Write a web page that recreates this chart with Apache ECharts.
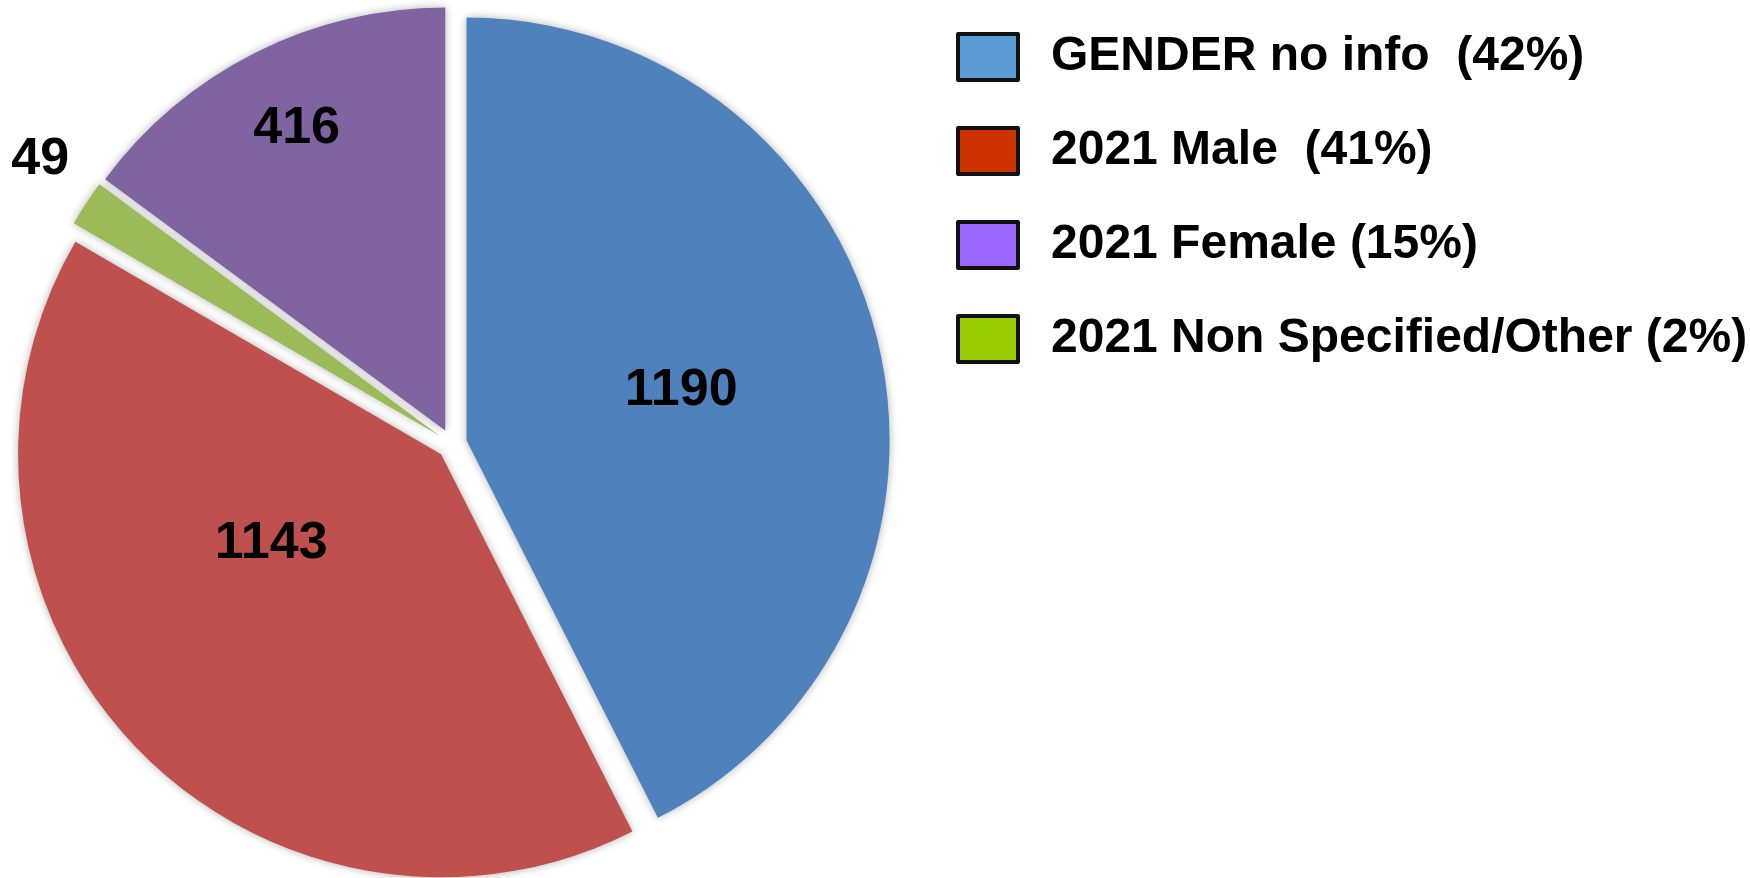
<!DOCTYPE html>
<html>
<head>
<meta charset="utf-8">
<script src="https://cdn.jsdelivr.net/npm/echarts@6/dist/echarts.min.js"></script>
<style>
    html, body { margin: 0; padding: 0; background: #fff; }
    #chart { width: 1750px; height: 878px; }
</style>
</head>
<body>
<div id="chart"></div>
<script>
    // chart data
    var categories = ['GENDER no info  (42%)', '2021 Male  (41%)', '2021 Non Specified/Other (2%)', '2021 Female (15%)'];
    var values = [1190, 1143, 49, 416];
    var sliceColors = ['#4F81BD', '#C0504D', '#9BBB59', '#8064A2'];
    var legendOrder = ['GENDER no info  (42%)', '2021 Male  (41%)', '2021 Female (15%)', '2021 Non Specified/Other (2%)'];
    var legendColors = ['#5B9BD5', '#CC3300', '#9966FF', '#99CC00'];

    // nudges for the hand placed labels
    var labelShift = [[6, 0], [-14, -58], [-220, -158], [-52, -110]];

    var chart = echarts.init(document.getElementById('chart'));
    var font = '"Liberation Sans", Arial, sans-serif';

    var option = {
        animation: false,
        backgroundColor: '#fff',
        legend: {
            orient: 'vertical',
            left: 956,
            top: 32,
            padding: 0,
            itemWidth: 60,
            itemHeight: 46,
            itemGap: 44,
            selectedMode: false,
            icon: 'rect',
            textStyle: {
                fontFamily: font,
                fontWeight: 'bold',
                fontSize: 48,
                color: '#000',
                lineHeight: 46,
                padding: [0, 0, 0, 28]
            },
            data: legendOrder.map(function(name, i) {
                return {
                    name: name,
                    itemStyle: { color: legendColors[i], borderColor: '#111', borderWidth: 4 }
                };
            })
        },
        series: [{
            type: 'pie',
            center: [452, 444],
            radius: 423,
            startAngle: 90,
            clockwise: true,
            selectedMode: 'multiple',
            selectedOffset: 15,
            emphasis: { disabled: true },
            itemStyle: {
                shadowBlur: 8,
                shadowColor: 'rgba(0,0,0,0.3)'
            },
            label: {
                show: true,
                position: 'inside',
                formatter: '{c}',
                fontFamily: font,
                fontWeight: 'bold',
                fontSize: 52,
                color: '#000'
            },
            labelLine: { show: false },
            labelLayout: function(params) {
                var s = labelShift[params.dataIndex];
                return { dx: s[0], dy: s[1] };
            },
            data: categories.map(function(name, i) {
                return {
                    name: name,
                    value: values[i],
                    selected: true,
                    itemStyle: { color: sliceColors[i] },
                    select: { itemStyle: { color: sliceColors[i] } }
                };
            })
        }]
    };

    chart.setOption(option);
</script>
</body>
</html>
